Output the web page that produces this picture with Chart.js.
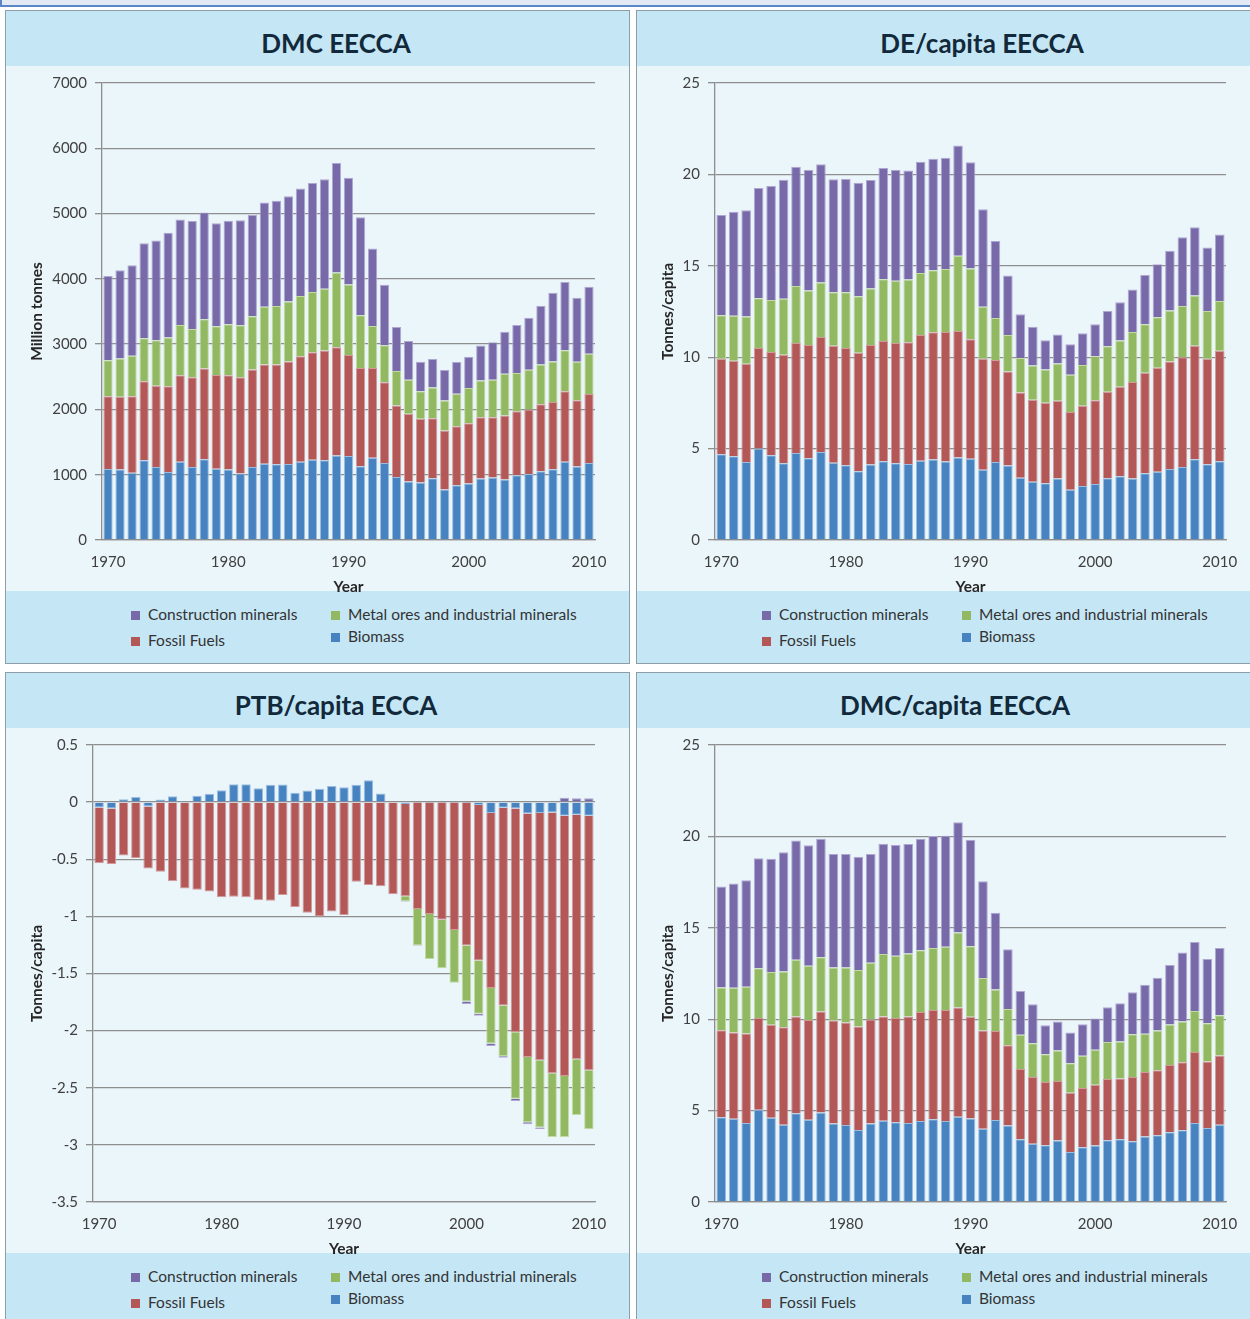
<!DOCTYPE html>
<html>
<head>
<meta charset="utf-8">
<script src="https://cdn.jsdelivr.net/npm/chart.js@4.4.1/dist/chart.umd.min.js"></script>
<style>
  body { margin: 0; width: 1250px; height: 1319px; overflow: hidden; background: #fff; position: relative;
         font-family: Lato, 'Open Sans', sans-serif; }
  .topbar { position: absolute; left: 0; top: -30px; width: 1262px; height: 33px; background: #e3e9f5; border: 2px solid #5a87c6; }
  .panel { position: absolute; width: 625px; height: 654px; box-sizing: border-box; border: 1px solid #8d9ea9;
           background: #ebf6fb; overflow: hidden; }
  .head { position: absolute; left: 0; top: 0; right: 0; height: 55px; background: #c5e6f5; }
  .head span { position: absolute; top: 14px; line-height: 36px; transform: translateX(-50%); white-space: nowrap;
               font-weight: bold; font-size: 26px; color: #11293a; }
  .foot { position: absolute; left: 0; right: 0; top: 580px; bottom: 0; background: #c5e6f5; }
  .plot { position: absolute; left: 0; top: 55px; z-index: 2; }
  .leg { position: absolute; z-index: 3; font-size: 15.5px; line-height: 18px; color: #333; white-space: nowrap; }
  .leg i { display: inline-block; width: 9px; height: 9px; margin-right: 8px; vertical-align: 0px; }
</style>
</head>
<body>
<div class="topbar"></div>
<div id="panels"></div>
<script>
const years = [1970, 1971, 1972, 1973, 1974, 1975, 1976, 1977, 1978, 1979,
  1980, 1981, 1982, 1983, 1984, 1985, 1986, 1987, 1988, 1989,
  1990, 1991, 1992, 1993, 1994, 1995, 1996, 1997, 1998, 1999,
  2000, 2001, 2002, 2003, 2004, 2005, 2006, 2007, 2008, 2009, 2010];
const xTickYears = [1970, 1980, 1990, 2000, 2010];
const seriesNames = ['Biomass', 'Fossil Fuels', 'Metal ores and industrial minerals', 'Construction minerals'];

// DMC EECCA (million tonnes)
const dmcBiomass = [1088, 1078, 1032, 1220, 1118, 1042, 1200, 1118, 1235, 1093, 1078, 1017, 1118, 1169, 1159, 1164, 1200, 1230, 1220, 1296,
  1286, 1129, 1261, 1179, 966, 895, 880, 946, 773, 839, 864, 941, 956, 925, 991, 1012, 1052, 1083, 1200, 1124, 1179];
const dmcFossil = [1113, 1118, 1169, 1210, 1246, 1312, 1322, 1373, 1393, 1434, 1444, 1474, 1495, 1520, 1530, 1571, 1616, 1647, 1683, 1658,
  1546, 1504, 1372, 1236, 1093, 1037, 976, 920, 905, 905, 926, 940, 925, 981, 982, 986, 1027, 1032, 1078, 1016, 1058];
const dmcMetal = [554, 585, 621, 661, 696, 747, 772, 742, 753, 747, 782, 798, 814, 885, 895, 920, 921, 921, 945, 1144,
  1083, 809, 646, 569, 529, 523, 422, 468, 457, 498, 538, 564, 574, 641, 584, 610, 610, 620, 630, 590, 615];
const dmcConstruction = [1287, 1352, 1387, 1454, 1526, 1607, 1617, 1653, 1637, 1576, 1587, 1607, 1550, 1596, 1612, 1612, 1647, 1672, 1678, 1677,
  1632, 1500, 1185, 926, 676, 595, 452, 437, 468, 483, 478, 534, 575, 641, 737, 798, 900, 1053, 1042, 981, 1027];

// DE/capita EECCA (tonnes/capita)
const deBiomass = [4.69, 4.58, 4.27, 5.00, 4.64, 4.20, 4.76, 4.47, 4.82, 4.22, 4.09, 3.76, 4.13, 4.31, 4.20, 4.16, 4.33, 4.40, 4.29, 4.51,
  4.44, 3.84, 4.27, 4.07, 3.40, 3.18, 3.11, 3.36, 2.75, 2.96, 3.07, 3.38, 3.49, 3.36, 3.65, 3.73, 3.89, 4.00, 4.42, 4.15, 4.31];
const deFossil = [5.22, 5.22, 5.37, 5.51, 5.65, 5.93, 6.02, 6.20, 6.29, 6.40, 6.42, 6.48, 6.54, 6.58, 6.58, 6.66, 6.89, 6.96, 7.09, 6.93,
  6.54, 6.07, 5.58, 5.15, 4.67, 4.49, 4.40, 4.26, 4.25, 4.39, 4.58, 4.73, 4.89, 5.28, 5.50, 5.69, 5.87, 6.00, 6.20, 5.76, 6.04];
const deMetal = [2.38, 2.47, 2.58, 2.71, 2.84, 3.07, 3.11, 2.98, 2.98, 2.93, 3.04, 3.09, 3.09, 3.38, 3.40, 3.43, 3.38, 3.39, 3.44, 4.11,
  3.87, 2.85, 2.30, 2.00, 1.88, 1.88, 1.82, 2.03, 2.04, 2.23, 2.40, 2.49, 2.53, 2.74, 2.65, 2.76, 2.80, 2.80, 2.76, 2.62, 2.72];
const deConstruction = [5.49, 5.69, 5.82, 6.03, 6.23, 6.51, 6.53, 6.59, 6.47, 6.18, 6.20, 6.22, 5.93, 6.08, 6.06, 5.97, 6.09, 6.10, 6.09, 6.03,
  5.82, 5.33, 4.21, 3.25, 2.40, 2.12, 1.60, 1.59, 1.67, 1.73, 1.75, 1.93, 2.09, 2.33, 2.69, 2.91, 3.26, 3.76, 3.73, 3.47, 3.64];

// PTB/capita ECCA (tonnes/capita)
const ptbBiomass = [-0.046, -0.055, 0.026, 0.044, -0.038, 0.023, 0.052, 0.009, 0.055, 0.073, 0.104, 0.157, 0.157, 0.122, 0.151, 0.154, 0.081, 0.102, 0.116, 0.142,
  0.131, 0.151, 0.191, 0.075, 0, -0.017, -0.003, -0.003, -0.003, -0.003, -0.003, -0.026, -0.096, -0.049, -0.055, -0.099, -0.096, -0.09, -0.119, -0.11, -0.119];
const ptbFossil = [-0.488, -0.487, -0.467, -0.49, -0.542, -0.609, -0.693, -0.757, -0.766, -0.783, -0.832, -0.829, -0.832, -0.858, -0.864, -0.812, -0.919, -0.969, -1.0, -0.957,
  -0.989, -0.696, -0.725, -0.737, -0.806, -0.807, -0.933, -0.977, -1.026, -1.116, -1.253, -1.361, -1.532, -1.730, -1.960, -2.131, -2.163, -2.282, -2.279, -2.14, -2.227];
const ptbMetal = [0, 0, 0, 0, 0, 0, 0, 0, 0, 0, 0, 0, 0, 0, 0, 0, 0, 0, 0, 0,
  0, 0, 0, 0, 0, -0.043, -0.320, -0.392, -0.424, -0.462, -0.488, -0.465, -0.485, -0.445, -0.581, -0.572, -0.590, -0.558, -0.532, -0.488, -0.517];
const ptbConstruction = [0, 0, 0, 0, 0, 0, 0, 0, 0, 0, 0, 0, 0, 0, 0, 0, 0, 0, 0, 0,
  0, 0, 0, 0, 0, -0.004, -0.004, -0.002, -0.002, -0.002, -0.023, -0.017, -0.021, -0.014, -0.02, -0.018, -0.011, 0.005, 0.038, 0.035, 0.035];

// DMC/capita EECCA (tonnes/capita)
const dmcCapBiomass = [4.63, 4.56, 4.32, 5.05, 4.61, 4.23, 4.85, 4.50, 4.90, 4.30, 4.21, 3.94, 4.30, 4.45, 4.36, 4.32, 4.43, 4.52, 4.43, 4.66,
  4.57, 4.01, 4.48, 4.19, 3.43, 3.18, 3.10, 3.36, 2.74, 2.99, 3.09, 3.38, 3.43, 3.32, 3.58, 3.65, 3.81, 3.92, 4.32, 4.05, 4.23];
const dmcCapFossil = [4.77, 4.71, 4.90, 5.02, 5.08, 5.33, 5.30, 5.45, 5.52, 5.63, 5.61, 5.66, 5.68, 5.70, 5.71, 5.83, 5.97, 5.99, 6.08, 5.98,
  5.56, 5.37, 4.87, 4.38, 3.85, 3.66, 3.47, 3.26, 3.23, 3.25, 3.32, 3.35, 3.32, 3.52, 3.53, 3.56, 3.69, 3.72, 3.88, 3.63, 3.79];
const dmcCapMetal = [2.34, 2.45, 2.56, 2.72, 2.89, 3.05, 3.10, 2.97, 2.97, 2.90, 3.01, 3.09, 3.11, 3.41, 3.40, 3.44, 3.37, 3.39, 3.45, 4.10,
  3.86, 2.87, 2.27, 1.99, 1.87, 1.84, 1.51, 1.67, 1.62, 1.76, 1.92, 2.02, 2.03, 2.33, 2.09, 2.17, 2.21, 2.23, 2.25, 2.10, 2.20];
const dmcCapConstruction = [5.52, 5.70, 5.82, 6.01, 6.20, 6.52, 6.53, 6.59, 6.48, 6.21, 6.21, 6.20, 5.95, 6.04, 6.06, 5.99, 6.10, 6.12, 6.08, 6.04,
  5.83, 5.30, 4.21, 3.27, 2.39, 2.14, 1.59, 1.58, 1.68, 1.73, 1.71, 1.90, 2.09, 2.30, 2.69, 2.89, 3.25, 3.78, 3.78, 3.52, 3.68];

const fills = ['#4883c1', '#b45757', '#92b962', '#7869a8'];
const edges = ['#9dbde0', '#d29a9a', '#c2dba3', '#b0a6d3'];
const gridCol = '#8e8e8e';

const panels = [
  { title: 'DMC EECCA', yTitle: 'Million tonnes', left: 5, top: 10, titleX: 330, axisW: 96, min: 0, max: 7000, step: 1000,
    series: [dmcBiomass, dmcFossil, dmcMetal, dmcConstruction] },
  { title: 'DE/capita EECCA', yTitle: 'Tonnes/capita', left: 636, top: 10, titleX: 345, axisW: 78, min: 0, max: 25, step: 5,
    series: [deBiomass, deFossil, deMetal, deConstruction] },
  { title: 'PTB/capita ECCA', yTitle: 'Tonnes/capita', left: 5, top: 672, titleX: 330, axisW: 87, min: -3.5, max: 0.5, step: 0.5,
    series: [ptbBiomass, ptbFossil, ptbMetal, ptbConstruction] },
  { title: 'DMC/capita EECCA', yTitle: 'Tonnes/capita', left: 636, top: 672, titleX: 318, axisW: 78, min: 0, max: 25, step: 5,
    series: [dmcCapBiomass, dmcCapFossil, dmcCapMetal, dmcCapConstruction] }
];

// legend slots: [series index, x, y] inside the panel
const legendSlots = [[3, 125, 594], [2, 325, 594], [1, 125, 620], [0, 325, 616]];

Chart.defaults.font.family = "Lato, 'Open Sans', sans-serif";
Chart.defaults.color = '#404040';

const host = document.getElementById('panels');

panels.forEach(function(p) {
  const div = document.createElement('div');
  div.className = 'panel';
  div.style.left = p.left + 'px';
  div.style.top = p.top + 'px';
  div.innerHTML = '<div class="head"><span style="left:' + p.titleX + 'px">' + p.title + '</span></div><div class="foot"></div>';

  legendSlots.forEach(function(s) {
    const item = document.createElement('div');
    item.className = 'leg';
    item.style.left = s[1] + 'px';
    item.style.top = s[2] + 'px';
    item.innerHTML = '<i style="background:' + fills[s[0]] + '"></i>' + seriesNames[s[0]];
    div.appendChild(item);
  });

  const canvas = document.createElement('canvas');
  canvas.className = 'plot';
  canvas.width = 623;
  canvas.height = 534;
  div.appendChild(canvas);
  host.appendChild(div);

  new Chart(canvas.getContext('2d'), {
    type: 'bar',
    data: {
      labels: years,
      datasets: seriesNames.map(function(name, i) {
        return {
          label: name,
          data: p.series[i],
          backgroundColor: fills[i],
          borderColor: edges[i],
          borderWidth: 1,
          barPercentage: 0.77,
          categoryPercentage: 1
        };
      })
    },
    options: {
      responsive: false,
      animation: false,
      layout: { padding: { top: 15, right: 34, bottom: 0, left: 0 } },
      plugins: { legend: { display: false }, tooltip: { enabled: false } },
      scales: {
        x: {
          stacked: true,
          grid: { display: false },
          border: { display: true, color: gridCol, width: 1.3 },
          ticks: {
            autoSkip: false,
            maxRotation: 0,
            padding: 5,
            font: { size: 15 },
            callback: function(value) {
              const y = this.getLabelForValue(value);
              return xTickYears.includes(y) ? String(y) : '';
            }
          },
          title: { display: true, text: 'Year', color: '#262626', font: { size: 15.5, weight: 'bold' }, padding: { top: 0, bottom: 4 } },
          afterFit: function(scale) { scale.height = 60; }
        },
        y: {
          stacked: true,
          min: p.min,
          max: p.max,
          ticks: {
            stepSize: p.step,
            padding: 8,
            font: { size: 15 },
            callback: function(value) { return String(value); }
          },
          grid: { color: gridCol, lineWidth: 1.3, tickLength: 7 },
          border: { color: gridCol, width: 1.3 },
          title: { display: true, text: p.yTitle, color: '#262626', font: { size: 15.5, weight: 'bold' }, padding: { top: 22, bottom: 0 } },
          afterFit: function(scale) { scale.width = p.axisW; }
        }
      }
    }
  });
});
</script>
</body>
</html>
